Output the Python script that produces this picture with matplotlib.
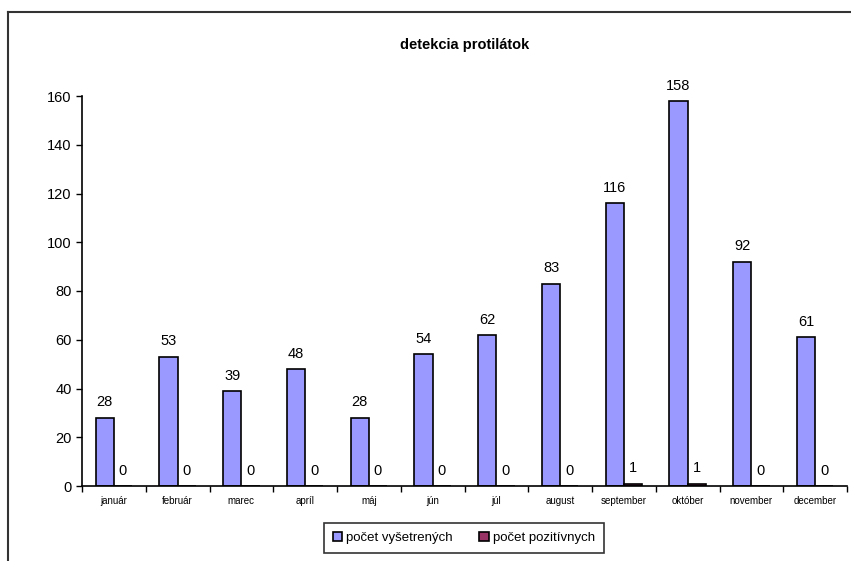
import matplotlib
matplotlib.use("Agg")
import matplotlib.pyplot as plt
import numpy as np
from matplotlib.lines import Line2D

plt.rcParams['font.family'] = ['Liberation Sans', 'DejaVu Sans']

months = ["január", "február", "marec", "apríl", "máj", "jún", "júl",
          "august", "september", "október", "november", "december"]
vysetrenych = [28, 53, 39, 48, 28, 54, 62, 83, 116, 158, 92, 61]
pozitivnych = [0, 0, 0, 0, 0, 0, 0, 0, 1, 1, 0, 0]

W, H = 851, 561
fig = plt.figure(figsize=(W / 100, H / 100), dpi=100)
ax = fig.add_axes([82 / W, 1 - 486 / H, (847 - 82) / W, (486 - 96) / H])

x = np.arange(len(months))
bw = 1 / 3.5
ax.bar(x - bw / 2, vysetrenych, width=bw, color="#9999FF", edgecolor="black",
       linewidth=1.2, label="počet vyšetrených")
ax.bar(x + bw / 2, pozitivnych, width=bw, color="#993366", edgecolor="black",
       linewidth=1.2, label="počet pozitívnych")

for xi, v in zip(x, vysetrenych):
    ax.annotate(str(v), (xi - bw / 2, v), xytext=(0, 6), textcoords="offset points",
                ha="center", va="bottom", fontsize=10.5)
for xi, v in zip(x, pozitivnych):
    ax.annotate(str(v), (xi + bw / 2, v), xytext=(0, 6), textcoords="offset points",
                ha="center", va="bottom", fontsize=10.5)

ax.set_xlim(-0.5, len(months) - 0.5)
ax.set_ylim(0, 160)
ax.set_yticks(range(0, 161, 20))
ax.tick_params(axis="y", labelsize=10.5, length=4, width=1, direction="out")
ax.set_xticks(x)
ax.set_xticklabels(months, fontsize=7)
ax.tick_params(axis="x", length=0, pad=7)
ax.set_xticks(np.arange(-0.5, len(months), 1), minor=True)
ax.tick_params(axis="x", which="minor", length=4, width=1, direction="out")

for side in ("top", "right"):
    ax.spines[side].set_visible(False)
for side in ("left", "bottom"):
    ax.spines[side].set_linewidth(1.2)

ax.set_title("detekcia protilátok", fontsize=10.5, fontweight="bold", pad=34)

leg = fig.legend(loc="center", bbox_to_anchor=(464 / W, 1 - 538 / H), ncol=2,
                 fontsize=9.5, frameon=True, fancybox=False, edgecolor="black",
                 handlelength=0.7, handleheight=0.7, handletextpad=0.3,
                 columnspacing=2.0, borderpad=0.7, borderaxespad=0)
leg.get_frame().set_linewidth(1.2)

# outer chart frame
fig.add_artist(Line2D([8 / W, 8 / W], [0, 1 - 12 / H], transform=fig.transFigure,
                      color="#333333", linewidth=1.5))
fig.add_artist(Line2D([8 / W, 1], [1 - 12 / H, 1 - 12 / H], transform=fig.transFigure,
                      color="#333333", linewidth=1.5))

fig.savefig("out.png", dpi=100)
